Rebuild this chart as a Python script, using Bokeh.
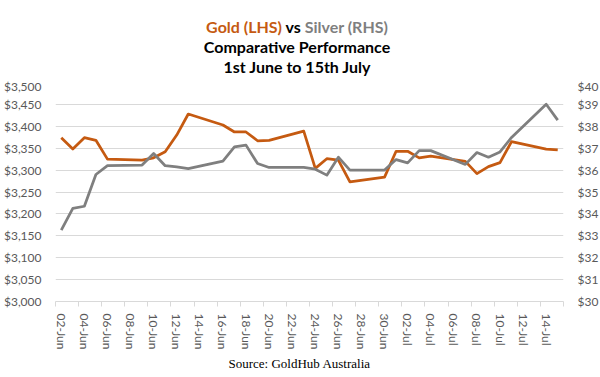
import pandas as pd
from bokeh.plotting import figure
from bokeh.layouts import column
from bokeh.models import (Range1d, LinearAxis, FixedTicker, SingleIntervalTicker,
                          NumeralTickFormatter, Title, Div, ColumnDataSource)
from bokeh.embed import file_html
from bokeh.resources import INLINE

# ---- data -------------------------------------------------------------
dates = ["2025-06-02", "2025-06-03", "2025-06-04", "2025-06-05", "2025-06-06",
         "2025-06-09", "2025-06-10", "2025-06-11", "2025-06-12", "2025-06-13",
         "2025-06-16", "2025-06-17", "2025-06-18", "2025-06-19", "2025-06-20",
         "2025-06-23", "2025-06-24", "2025-06-25", "2025-06-26", "2025-06-27",
         "2025-06-30", "2025-07-01", "2025-07-02", "2025-07-03", "2025-07-04",
         "2025-07-07", "2025-07-08", "2025-07-09", "2025-07-10", "2025-07-11",
         "2025-07-14", "2025-07-15"]
gold = [3374, 3348, 3374, 3368, 3325,
        3323, 3328, 3342, 3380, 3428,
        3403, 3387, 3387, 3367, 3368,
        3389, 3304, 3326, 3323, 3273,
        3284, 3343, 3343, 3328, 3332,
        3320, 3292, 3308, 3317, 3365,
        3348, 3346]
silver = [33.26, 34.25, 34.35, 35.80, 36.20,
          36.23, 36.76, 36.20, 36.15, 36.07,
          36.41, 37.06, 37.14, 36.30, 36.12,
          36.12, 36.04, 35.77, 36.59, 36.00,
          36.00, 36.48, 36.33, 36.89, 36.89,
          36.26, 36.80, 36.59, 36.83, 37.49,
          39.01, 38.28]
tick_labels = ["02-Jun", "04-Jun", "06-Jun", "08-Jun", "10-Jun", "12-Jun",
               "14-Jun", "16-Jun", "18-Jun", "20-Jun", "22-Jun", "24-Jun",
               "26-Jun", "28-Jun", "30-Jun", "02-Jul", "04-Jul", "06-Jul",
               "08-Jul", "10-Jul", "12-Jul", "14-Jul"]
axis_start, axis_end = "2025-06-02", "2025-07-15"
gold_range = (3000, 3500)
silver_range = (30, 40)

# ---- styling ----------------------------------------------------------
GOLD = "#C55A11"
SILVER = "#7F7F7F"
GRID = "#D9D9D9"
TEXT = "#595959"
FONT = "Lato"

t0 = pd.Timestamp(axis_start)
day = [(pd.Timestamp(d) - t0).days for d in dates]
n_days = (pd.Timestamp(axis_end) - t0).days
src = ColumnDataSource(dict(day=day, gold=gold, silver=silver))

title_html = (f'<span style="color:{GOLD}">Gold (LHS)</span> vs '
              f'<span style="color:{SILVER}">Silver (RHS)</span><br>'
              'Comparative Performance<br>1st June to 15th July')
head = Div(text=title_html, width=584, height=68,
           styles={"text-align": "center", "font-family": FONT,
                   "font-weight": "bold", "font-size": "16px",
                   "line-height": "20px", "color": "black",
                   "padding-top": "12px", "box-sizing": "border-box",
                   "overflow": "visible"})

FW, FH = 508, 219
p = figure(frame_width=FW, frame_height=FH, output_backend="svg", toolbar_location=None,
           x_range=Range1d(-0.5, n_days + 0.5),
           y_range=Range1d(*gold_range),
           min_border_left=45, min_border_right=30,
           min_border_top=4, min_border_bottom=10,
           background_fill_color="white", border_fill_color=None)
p.outline_line_color = None
p.extra_y_ranges = {"silver": Range1d(*silver_range)}

# x axis
xa = p.xaxis[0]
major = [i * 2 for i in range(len(tick_labels))]
xa.ticker = FixedTicker(ticks=major, minor_ticks=[m - 0.5 for m in major] + [n_days + 0.5])
xa.major_label_overrides = {m: lab for m, lab in zip(major, tick_labels)}
xa.major_label_orientation = "vertical"
xa.major_tick_line_color = None
xa.minor_tick_line_color = GRID
xa.minor_tick_out = 5
xa.minor_tick_in = 0
xa.axis_line_color = GRID
xa.major_label_standoff = 6

# left axis
ya = p.yaxis[0]
ya.ticker = SingleIntervalTicker(interval=50)
ya.formatter = NumeralTickFormatter(format="$0,0")
ya.axis_line_color = None
ya.major_tick_line_color = None
ya.minor_tick_line_color = None
ya.major_label_standoff = 8

# right axis
ra = LinearAxis(y_range_name="silver", ticker=SingleIntervalTicker(interval=1),
                formatter=NumeralTickFormatter(format="$0"))
ra.axis_line_color = None
ra.major_tick_line_color = None
ra.minor_tick_line_color = None
ra.major_label_standoff = 8
p.add_layout(ra, "right")

for ax in (xa, ya, ra):
    ax.major_label_text_font = FONT
    ax.major_label_text_font_size = "12px"
    ax.major_label_text_color = TEXT

p.xgrid.visible = False
p.ygrid.ticker = ya.ticker
p.ygrid.grid_line_color = GRID
p.ygrid.grid_line_width = 1

p.line(x="day", y="gold", source=src, line_color=GOLD, line_width=2.75, line_join="round")
p.line(x="day", y="silver", source=src, y_range_name="silver",
       line_color=SILVER, line_width=2.75, line_join="round")

p.add_layout(Title(text="Source: GoldHub Australia", align="left",
                   text_font="Liberation Serif", text_font_size="13px",
                   text_font_style="normal", text_color="black",
                   offset=173, standoff=3), "below")

layout = column(head, p, spacing=0)
open("out.html", "w").write(file_html(layout, INLINE))
